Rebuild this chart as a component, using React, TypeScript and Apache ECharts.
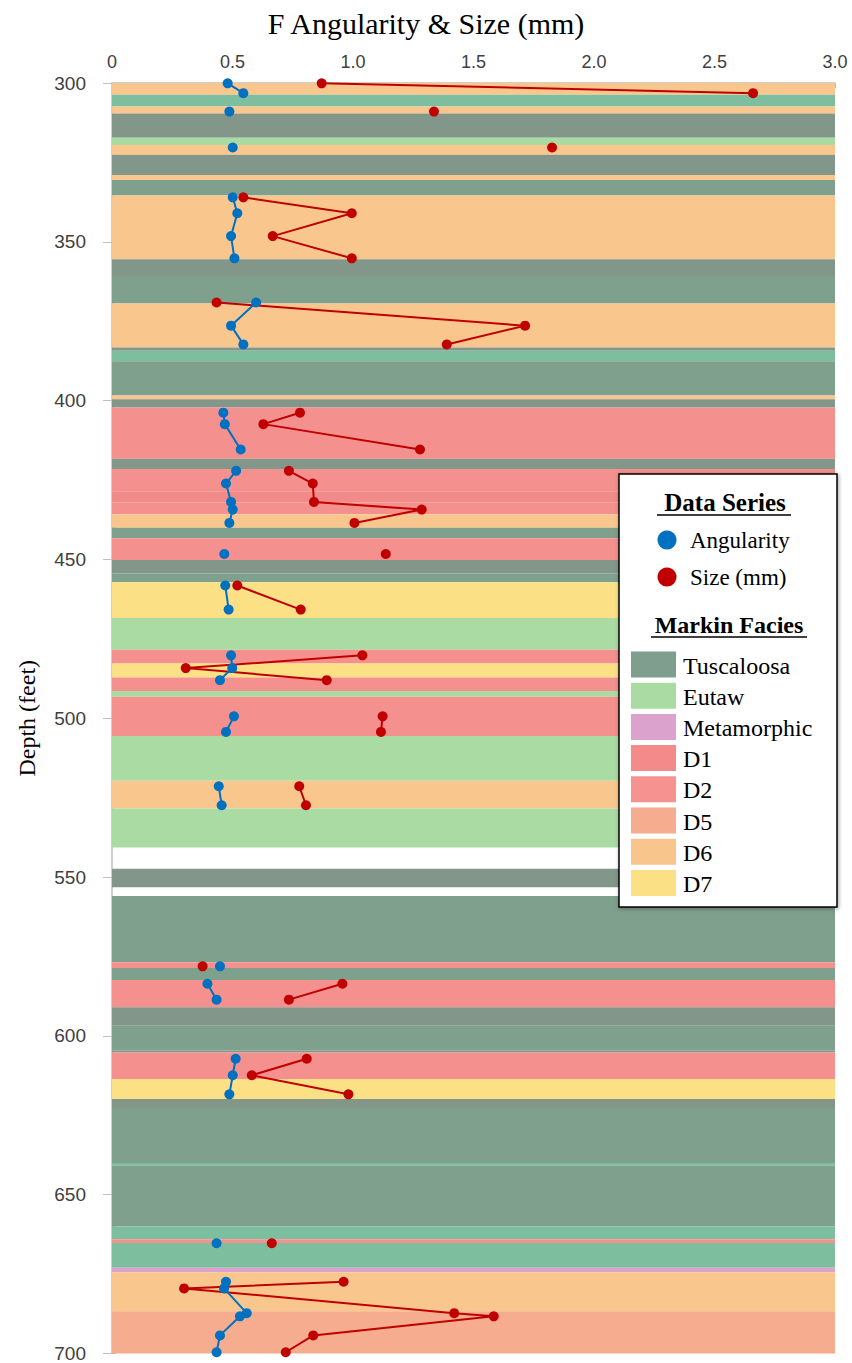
import React, { useEffect, useRef } from "react";
import * as echarts from "echarts";

const title = "F Angularity & Size (mm)";
const xTicks = [0, 0.5, 1.0, 1.5, 2.0, 2.5, 3.0];

// sample depths (feet); null marks a break in the connecting line
const depths = [
  300.1, 303.2, null, 309, null, 320.3, null, 336, 341, 348.2, 355.2, null,
  369.1, 376.4, 382.3, null, 403.8, 407.4, 415.4, null,
  422.1, 426.1, 431.9, 434.3, 438.5, null, 448.3, null, 458.2, 465.8, null,
  480.2, 484.2, 488.0, null, 499.4, 504.3, null, 521.4, 527.4, null,
  578.1, null, 583.6, 588.6, null, 607.2, 612.4, 618.4, null, 665.3, null,
  677.4, 679.5, 687.3, 688.3, 694.3, 699.6,
];
const angularity = [
  0.48, 0.545, null, 0.487, null, 0.501, null, 0.501, 0.52, 0.494, 0.508, null,
  0.598, 0.494, 0.545, null, 0.462, 0.468, 0.534, null,
  0.515, 0.473, 0.494, 0.501, 0.487, null, 0.466, null, 0.47, 0.484, null,
  0.494, 0.499, 0.448, null, 0.506, 0.473, null, 0.443, 0.455, null,
  0.448, null, 0.396, 0.434, null, 0.513, 0.501, 0.487, null, 0.434, null,
  0.473, 0.465, 0.559, 0.531, 0.448, 0.434,
];
const sizeMm = [
  0.87, 2.66, null, 1.336, null, 1.826, null, 0.545, 0.995, 0.667, 0.995, null,
  0.434, 1.714, 1.389, null, 0.78, 0.628, 1.278, null,
  0.734, 0.833, 0.838, 1.285, 1.006, null, 1.136, null, 0.52, 0.783, null,
  1.039, 0.306, 0.891, null, 1.123, 1.116, null, 0.777, 0.805, null,
  0.376, null, 0.956, 0.734, null, 0.808, 0.58, 0.981, null, 0.663, null,
  0.961, 0.299, 1.42, 1.584, 0.835, 0.721,
];

// facies bands: top depth, bottom depth, facies key
const bandTop = [
  300, 303.7, 307.4, 309.6, 317.2, 319.5, 322.6, 329, 330.5, 335.4, 355.5, 360.8,
  369.4, 383.3, 384.3, 387.6, 398.4, 399.6, 402.2, 418.3, 421.5, 428.5, 432, 435.8,
  440, 443.3, 450.2, 454.4, 457.2, 468.4, 478.4, 482.8, 487.2, 491.4, 493.2, 505.6,
  519.7, 528.4, 547.4, 556, 576.8, 578.6, 582.4, 591, 596.8, 604.6, 605.2, 613.6,
  619.9, 622.7, 640, 640.9, 660, 664, 665.2, 673, 674.4, 686.7,
];
const bandBottom = [
  303.7, 307.4, 309.6, 317.2, 319.5, 322.6, 329, 330.5, 335.4, 355.5, 360.8, 369.4,
  383.3, 384.3, 387.6, 398.4, 399.6, 402.2, 418.3, 421.5, 428.5, 432, 435.8, 440,
  443.3, 450.2, 454.4, 457.2, 468.4, 478.4, 482.8, 487.2, 491.4, 493.2, 505.6, 519.7,
  528.4, 540.7, 553.2, 576.8, 578.6, 582.4, 591, 596.8, 604.6, 605.2, 613.6, 619.9,
  622.7, 640, 640.9, 660, 664, 665.2, 673, 674.4, 686.7, 700,
];
const bandFacies = [
  "D6", "Teal", "D6", "Gray", "Eutaw", "D6", "Gray", "D6", "Tuscaloosa", "D6", "Gray", "Tuscaloosa",
  "D6", "Gray", "Teal", "Tuscaloosa", "D6", "Gray", "D1", "Gray", "D1", "D2", "D1", "D6",
  "Tuscaloosa", "D1", "Gray", "Tuscaloosa", "D7", "Eutaw", "D1", "D7", "D1", "Eutaw", "D1", "Eutaw",
  "D6", "Eutaw", "Gray", "Tuscaloosa", "D1", "Tuscaloosa", "D1", "Gray", "Tuscaloosa", "Gray", "D1", "D7",
  "Gray", "Tuscaloosa", "Teal", "Tuscaloosa", "Teal", "D1", "Teal", "Metamorphic", "D6", "D5",
];

const legendFacies = ["Tuscaloosa", "Eutaw", "Metamorphic", "D1", "D2", "D5", "D6", "D7"];
const faciesColors: Record<string, string> = {
  Tuscaloosa: "#7FA08D",
  Gray: "#83968A",
  Teal: "#7DBE9E",
  Eutaw: "#AADBA2",
  Metamorphic: "#DCA2CE",
  D1: "#F4908D",
  D2: "#F28A8A",
  D5: "#F6AC8E",
  D6: "#F9C78D",
  D7: "#FCE085",
};
const legendSwatch: Record<string, string> = {
  Tuscaloosa: "#7F9E8D",
  Eutaw: "#AADBA2",
  Metamorphic: "#DCA2CE",
  D1: "#F48A8A",
  D2: "#F69390",
  D5: "#F6AC8E",
  D6: "#F8C68C",
  D7: "#FCE085",
};

const BLUE = "#0070C0";
const RED = "#C00000";
const SERIF = "Liberation Serif";
const SANS = "Liberation Sans";

function toPairs(vals: (number | null)[]) {
  return depths.map((d, i) => (d === null || vals[i] === null ? ["-", "-"] : [vals[i], d]));
}

export default function App() {
  const ref = useRef<HTMLDivElement>(null);
  useEffect(() => {
    if (!ref.current) return;
    const chart = echarts.init(ref.current, null, { renderer: "svg" });

    const areas = bandTop.map((t, i) => [
      { yAxis: t, itemStyle: { color: faciesColors[bandFacies[i]], opacity: 1 } },
      { yAxis: bandBottom[i] },
    ]);

    const lx = 619, ly = 474, lw = 218, lh = 433;
    const graphics: any[] = [
      {
        type: "rect",
        shape: { x: lx, y: ly, width: lw, height: lh },
        style: { fill: "#fff", stroke: "#000", lineWidth: 1.5, shadowBlur: 4, shadowColor: "rgba(0,0,0,0.35)", shadowOffsetX: 1, shadowOffsetY: 1 },
        z: 100,
      },
      {
        type: "text", x: 725, y: 502, z: 101,
        style: { text: "Data Series", font: `bold 25px ${SERIF}`, fill: "#000", align: "center", verticalAlign: "middle" },
      },
      { type: "line", z: 101, shape: { x1: 657, y1: 515, x2: 791, y2: 515 }, style: { stroke: "#000", lineWidth: 1.5 } },
      { type: "circle", z: 101, shape: { cx: 667, cy: 540, r: 9.5 }, style: { fill: BLUE } },
      { type: "text", x: 690, y: 540, z: 101, style: { text: "Angularity", font: `23px ${SERIF}`, fill: "#000", verticalAlign: "middle" } },
      { type: "circle", z: 101, shape: { cx: 667, cy: 577, r: 9.5 }, style: { fill: RED } },
      { type: "text", x: 690, y: 577, z: 101, style: { text: "Size (mm)", font: `23px ${SERIF}`, fill: "#000", verticalAlign: "middle" } },
      {
        type: "text", x: 729, y: 625, z: 101,
        style: { text: "Markin Facies", font: `bold 24px ${SERIF}`, fill: "#000", align: "center", verticalAlign: "middle" },
      },
      { type: "line", z: 101, shape: { x1: 651, y1: 637, x2: 807, y2: 637 }, style: { stroke: "#000", lineWidth: 1.5 } },
    ];
    legendFacies.forEach((f, i) => {
      const cy = 664.5 + i * 31.2;
      graphics.push({
        type: "rect", z: 101,
        shape: { x: 631, y: cy - 13, width: 45, height: 26 },
        style: { fill: legendSwatch[f] },
      });
      graphics.push({
        type: "text", x: 683, y: cy + 1, z: 101,
        style: { text: f, font: `24px ${SERIF}`, fill: "#000", verticalAlign: "middle" },
      });
    });

    chart.setOption({
      animation: false,
      title: {
        text: title,
        left: "center",
        top: 3,
        textStyle: { fontFamily: SERIF, fontSize: 30, fontWeight: "normal", color: "#000" },
      },
      grid: { left: 112, right: 17, top: 83, bottom: 9, containLabel: false },
      xAxis: {
        type: "value",
        position: "top",
        min: 0,
        max: 3,
        interval: 0.5,
        axisLine: { show: true, lineStyle: { color: "#BFBFBF", width: 1.5 } },
        axisTick: { show: true, inside: true, length: 5, lineStyle: { color: "#BFBFBF" } },
        minorTick: { show: true, splitNumber: 5, length: 4, lineStyle: { color: "#BFBFBF" } },
        splitLine: { show: false },
        axisLabel: {
          fontFamily: SANS, fontSize: 18, color: "#404040", margin: 12,
          formatter: (v: number) => (v === 0 ? "0" : v.toFixed(1)),
        },
      },
      yAxis: [
        {
          type: "value",
          inverse: true,
          min: 300,
          max: 700,
          interval: 50,
          name: "Depth (feet)",
          nameLocation: "middle",
          nameRotate: 90,
          nameGap: 73,
          nameTextStyle: { fontFamily: SERIF, fontSize: 24, color: "#000" },
          axisLine: { show: true, lineStyle: { color: "#BFBFBF", width: 1.5 } },
          axisTick: { show: true, length: 9, lineStyle: { color: "#BFBFBF" } },
          splitLine: { show: false },
          axisLabel: { fontFamily: SANS, fontSize: 19, color: "#404040", margin: 26 },
        },
        {
          type: "value",
          inverse: true,
          min: 300,
          max: 700,
          interval: 10,
          position: "left",
          axisLine: { show: false },
          axisTick: { show: true, inside: true, length: 4, lineStyle: { color: "#BFBFBF" } },
          axisLabel: { show: false },
          splitLine: { show: false },
        },
      ],
      series: [
        {
          type: "line",
          name: "bands",
          data: [],
          silent: true,
          z: 1,
          markArea: { silent: true, data: areas },
        },
        {
          type: "line",
          name: "Angularity",
          data: toPairs(angularity),
          connectNulls: false,
          symbol: "circle",
          symbolSize: 10,
          itemStyle: { color: BLUE },
          lineStyle: { color: BLUE, width: 2 },
          z: 5,
        },
        {
          type: "line",
          name: "Size (mm)",
          data: toPairs(sizeMm),
          connectNulls: false,
          symbol: "circle",
          symbolSize: 10,
          itemStyle: { color: RED },
          lineStyle: { color: RED, width: 2 },
          z: 4,
        },
      ],
      graphic: graphics,
    });
    return () => chart.dispose();
  }, []);

  return (
    <div
      ref={ref}
      style={{ position: "absolute", left: 0, top: 0, width: 852, height: 1363, background: "#fff" }}
    />
  );
}
